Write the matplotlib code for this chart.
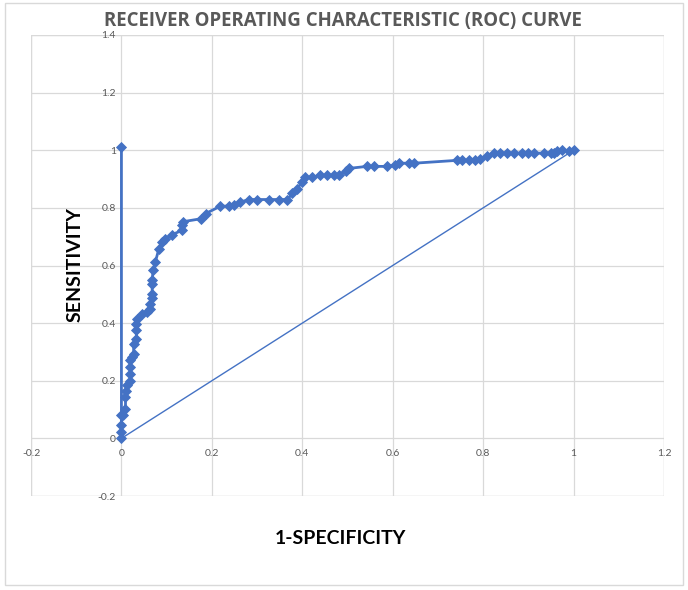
import matplotlib
matplotlib.use("Agg")
import matplotlib.pyplot as plt
from matplotlib.patches import Rectangle

# ROC series (1-specificity, sensitivity)
fpr = [0.0, 0.0, 0.0, 0.0, 0.0, 0.003, 0.009, 0.009, 0.01, 0.013, 0.02, 0.02, 0.02, 0.02,
       0.024, 0.027, 0.027, 0.033, 0.033, 0.033, 0.035, 0.046, 0.057, 0.064, 0.064,
       0.068, 0.068, 0.068, 0.068, 0.07, 0.075, 0.083, 0.09, 0.097, 0.112, 0.134, 0.134,
       0.136, 0.175, 0.186, 0.219, 0.237, 0.248, 0.263, 0.282, 0.3, 0.326, 0.348, 0.367,
       0.378, 0.389, 0.4, 0.407, 0.422, 0.44, 0.455, 0.47, 0.481, 0.496, 0.503, 0.543,
       0.558, 0.588, 0.606, 0.614, 0.636, 0.647, 0.743, 0.754, 0.768, 0.783, 0.794,
       0.809, 0.824, 0.838, 0.853, 0.868, 0.886, 0.9, 0.912, 0.934, 0.949, 0.956,
       0.964, 0.975, 0.99, 1.0]
tpr = [1.013, 0.0, 0.022, 0.045, 0.08, 0.08, 0.103, 0.143, 0.166, 0.184, 0.2, 0.225,
       0.248, 0.271, 0.282, 0.294, 0.329, 0.346, 0.375, 0.398, 0.416, 0.433, 0.439,
       0.45, 0.468, 0.486, 0.502, 0.537, 0.549, 0.583, 0.612, 0.659, 0.682, 0.693,
       0.707, 0.722, 0.74, 0.752, 0.762, 0.78, 0.806, 0.806, 0.809, 0.82, 0.829, 0.829,
       0.829, 0.829, 0.829, 0.85, 0.867, 0.891, 0.906, 0.906, 0.913, 0.913, 0.913,
       0.913, 0.928, 0.937, 0.944, 0.944, 0.944, 0.948, 0.955, 0.955, 0.955, 0.965,
       0.965, 0.965, 0.965, 0.971, 0.981, 0.99, 0.99, 0.99, 0.99, 0.99, 0.99, 0.99,
       0.99, 0.99, 0.99, 0.997, 1.0, 0.997, 1.0]
diag_x = [0, 1]
diag_y = [0, 1]

xticks = [-0.2, 0, 0.2, 0.4, 0.6, 0.8, 1, 1.2]
xticklabels = ["-0.2", "0", "0.2", "0.4", "0.6", "0.8", "1", "1.2"]
yticks = [-0.2, 0, 0.2, 0.4, 0.6, 0.8, 1, 1.2, 1.4]
yticklabels = ["-0.2", "0", "0.2", "0.4", "0.6", "0.8", "1", "1.2", "1.4"]

title = "RECEIVER OPERATING CHARACTERISTIC (ROC) CURVE"
xlabel = "1-SPECIFICITY"
ylabel = "SENSITIVITY"

BLUE = "#4472C4"
GRID = "#D9D9D9"
TXT = "#595959"

plt.rcParams['font.family'] = ['Lato', 'DejaVu Sans']

fig = plt.figure(figsize=(6.88, 5.9), dpi=100)
fig.patch.set_facecolor("white")
fig.add_artist(Rectangle((5/688, 5/590), 678/688, 582/590, transform=fig.transFigure,
                         fill=False, edgecolor=GRID, lw=1))

ax = fig.add_axes([31/688, 1 - 496/590, (664 - 31)/688, (496 - 35)/590])
ax.set_xlim(-0.2, 1.2)
ax.set_ylim(-0.2, 1.4)

ax.plot(diag_x, diag_y, color=BLUE, lw=1.0, zorder=3)
ax.plot(fpr, tpr, color=BLUE, lw=2.0, marker='D', markersize=5.2,
        markeredgewidth=0.6, markeredgecolor=BLUE, zorder=4)

ax.set_xticks(xticks)
ax.set_xticklabels(xticklabels)
ax.set_yticks(yticks)
ax.set_yticklabels(yticklabels)
ax.grid(True, color=GRID, lw=0.9, zorder=0)
ax.set_axisbelow(True)

for s in ['top', 'right']:
    ax.spines[s].set_visible(False)
ax.spines['left'].set_position(('data', 0))
ax.spines['bottom'].set_position(('data', 0))
ax.spines['left'].set_color('none')
ax.spines['bottom'].set_color('none')
ax.tick_params(axis='both', length=0, labelsize=7.5, labelcolor=TXT)
ax.tick_params(axis='x', pad=8)
ax.tick_params(axis='y', pad=4)

# outer plot-area frame (gridlines at limits)
for v in (-0.2, 1.2):
    ax.axvline(v, color=GRID, lw=0.9, zorder=0)
for v in (-0.2, 1.4):
    ax.axhline(v, color=GRID, lw=0.9, zorder=0)

fig.text(343/688, 1 - 21/590, title, ha='center', va='center', fontsize=13.4,
         fontweight='bold', color=TXT, family=['Open Sans', 'DejaVu Sans'])
fig.text(340/688, 1 - 538/590, xlabel, ha='center', va='center', fontsize=14,
         fontweight='bold', color='black')
fig.text(75/688, 1 - 265/590, ylabel, ha='center', va='center', fontsize=14,
         fontweight='bold', color='black', rotation=90)

fig.savefig("out.png", dpi=100, facecolor="white")
